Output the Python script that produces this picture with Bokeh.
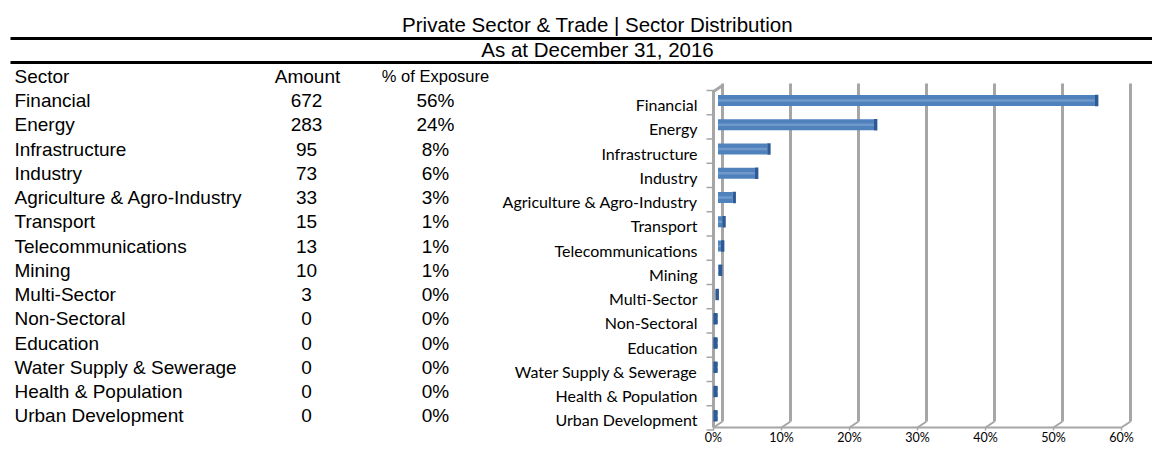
from bokeh.plotting import figure
from bokeh.models import Range1d, ColumnDataSource
from bokeh.core.properties import value
from bokeh.embed import file_html
from bokeh.resources import INLINE

# ---------------- data ----------------
title_text = "Private Sector & Trade | Sector Distribution"
subtitle_text = "As at December 31, 2016"
headers = ["Sector", "Amount", "% of Exposure"]
sectors = ["Financial", "Energy", "Infrastructure", "Industry",
           "Agriculture & Agro-Industry", "Transport", "Telecommunications",
           "Mining", "Multi-Sector", "Non-Sectoral", "Education",
           "Water Supply & Sewerage", "Health & Population", "Urban Development"]
amounts = ["672", "283", "95", "73", "33", "15", "13", "10", "3", "0", "0", "0", "0", "0"]
pct_text = ["56%", "24%", "8%", "6%", "3%", "1%", "1%", "1%", "0%", "0%", "0%", "0%", "0%", "0%"]
exposure = [0.561, 0.236, 0.079, 0.061, 0.028, 0.013, 0.011, 0.008, 0.003,
            0.0, 0.0, 0.0, 0.0, 0.0]
x_ticks = [0.0, 0.1, 0.2, 0.3, 0.4, 0.5, 0.6]
x_tick_labels = ["0%", "10%", "20%", "30%", "40%", "50%", "60%"]

# ---------------- layout ----------------
W, H = 1152, 445
PPU = 680.0            # pixels per 100% on the value axis
X0 = 713.0             # pixel of 0% on the front plane
DEPTH = 9.0 / PPU      # 3-D depth offset (in value units)
MID = 4.5 / PPU
ROW0, PITCH = 100.0, 24.25

TABLE_FONT = value("Liberation Sans")
CHART_FONT = value("Lato")
GRID = "#A6A6A6"

p = figure(width=W, height=H, output_backend="svg", toolbar_location=None,
           x_range=Range1d(0, W), y_range=Range1d(H, 0),
           x_axis_type=None, y_axis_type=None, min_border=0, title=None)
p.outline_line_color = None
p.background_fill_color = "white"
p.border_fill_color = "white"
p.extra_x_ranges = {"pct": Range1d(start=-X0 / PPU, end=(W - X0) / PPU)}
p.extra_y_ranges = {
    "row": Range1d(start=(H - ROW0) / PITCH, end=-ROW0 / PITCH),
    "lab": Range1d(start=(H - ROW0 - 4) / PITCH, end=-(ROW0 + 4) / PITCH),
}

rows = list(range(len(sectors)))
src = ColumnDataSource(dict(row=rows, sector=sectors, amount=amounts, pct=pct_text,
                            exp=exposure, cap=[e + 0.005 for e in exposure]))

# ---------------- titles ----------------
p.text(x=[597], y=[24], text=[title_text], text_font=TABLE_FONT,
       text_font_size="20.5px", text_align="center", text_baseline="middle", text_color="black")
p.text(x=[597], y=[49], text=[subtitle_text], text_font=TABLE_FONT,
       text_font_size="20.5px", text_align="center", text_baseline="middle", text_color="black")
p.segment(x0=[10, 10], y0=[38, 62], x1=[W, W], y1=[38, 62], line_color="black", line_width=3)

# ---------------- table ----------------
p.text(x=[14], y=[-1], text=[headers[0]], y_range_name="row", text_font=TABLE_FONT,
       text_font_size="19px", text_baseline="middle", text_align="left")
p.text(x=[307], y=[-1], text=[headers[1]], y_range_name="row", text_font=TABLE_FONT,
       text_font_size="19px", text_baseline="middle", text_align="center")
p.text(x=[435], y=[-1], text=[headers[2]], y_range_name="row", text_font=TABLE_FONT,
       text_font_size="16.5px", text_baseline="middle", text_align="center")
p.text(x=14, y="row", text="sector", source=src, y_range_name="row", text_font=TABLE_FONT,
       text_font_size="19px", text_baseline="middle", text_align="left")
p.text(x=306, y="row", text="amount", source=src, y_range_name="row", text_font=TABLE_FONT,
       text_font_size="19px", text_baseline="middle", text_align="center")
p.text(x=435, y="row", text="pct", source=src, y_range_name="row", text_font=TABLE_FONT,
       text_font_size="19px", text_baseline="middle", text_align="center")

# ---------------- chart walls / grid ----------------
n = len(x_ticks)
# back wall gridlines
p.segment(x0=[t + DEPTH for t in x_ticks], x1=[t + DEPTH for t in x_ticks],
          y0=[83] * n, y1=[421] * n, x_range_name="pct", line_color=GRID, line_width=3)
# floor diagonals and front edge
p.segment(x0=x_ticks, x1=[t + DEPTH for t in x_ticks], y0=[427] * n, y1=[421] * n,
          x_range_name="pct", line_color=GRID, line_width=2)
p.segment(x0=[x_ticks[0]], x1=[x_ticks[-1]], y0=[427], y1=[427],
          x_range_name="pct", line_color=GRID, line_width=2)
p.segment(x0=x_ticks, x1=x_ticks, y0=[427] * n, y1=[430] * n,
          x_range_name="pct", line_color=GRID, line_width=1.5)
# left wall
p.segment(x0=[0, 0], x1=[0, DEPTH], y0=[90, 91], y1=[427, 85],
          x_range_name="pct", line_color=GRID, line_width=3)
bounds = [k - 10 / PITCH for k in range(len(sectors) + 1)]
p.segment(x0=[-7 / PPU] * len(bounds), x1=[0] * len(bounds), y0=bounds, y1=bounds,
          x_range_name="pct", y_range_name="row", line_color=GRID, line_width=1.5)

# ---------------- bars ----------------
p.hbar(y="row", left=MID, right="exp", height=0.45, source=src, x_range_name="pct",
       y_range_name="row", fill_color="#4F81BD", line_color=None)
p.hbar(y="row", left=MID, right="exp", height=0.1, source=src, x_range_name="pct",
       y_range_name="row", fill_color="#7EA3D1", line_color=None, fill_alpha=0.7)
p.hbar(y="row", left="exp", right="cap", height=0.47, source=src, x_range_name="pct",
       y_range_name="row", fill_color="#2D5A94", line_color=None)

# ---------------- chart labels ----------------
p.text(x=697, y="row", text="sector", source=src, y_range_name="lab", text_font=CHART_FONT,
       text_font_size="16px", text_baseline="middle", text_align="right", text_color="black")
p.text(x=x_ticks, y=[429] * n, text=x_tick_labels, x_range_name="pct", text_font=CHART_FONT,
       text_font_size="12.5px", text_baseline="top", text_align="center", text_color="black")

open("out.html", "w").write(file_html(p, INLINE))
